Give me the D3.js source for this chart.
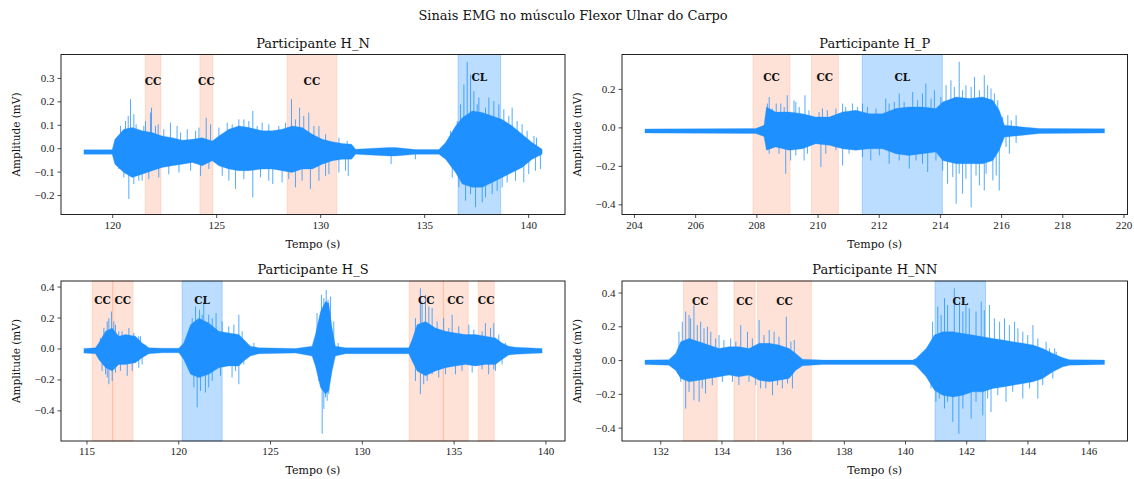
<!DOCTYPE html>
<html>
<head>
<meta charset="utf-8">
<script src="https://cdn.jsdelivr.net/npm/d3@7"></script>
<style>
  body { margin: 0; background: #fff; }
  text { font-family: "DejaVu Serif", serif; fill: #111; }
  .tick text { font-family: "Liberation Serif", serif; font-size: 11px; fill: #222; }
</style>
</head>
<body>
<svg id="chart" width="1134" height="479"></svg>
<script>
// EMG envelope per participant: [time (s), upper (mV), lower (mV)]
const hnEnvelope = [
  [118.64, -0.007, -0.026], [120.00, -0.007, -0.026], [120.13, 0.038, -0.068], [120.56, 0.081, -0.104],
  [120.96, 0.088, -0.125], [121.44, 0.074, -0.111], [121.92, 0.067, -0.096], [122.40, 0.052, -0.082],
  [122.88, 0.045, -0.075], [123.37, 0.034, -0.068], [123.85, 0.038, -0.061], [124.33, 0.045, -0.075],
  [124.81, 0.031, -0.054], [125.13, 0.052, -0.075], [125.61, 0.081, -0.089], [126.09, 0.095, -0.096],
  [126.57, 0.088, -0.096], [127.21, 0.074, -0.089], [127.69, 0.074, -0.089], [128.17, 0.081, -0.096],
  [128.65, 0.095, -0.104], [129.13, 0.088, -0.089], [129.62, 0.060, -0.089], [130.10, 0.038, -0.068],
  [130.58, 0.028, -0.054], [131.06, 0.020, -0.047], [131.51, 0.017, -0.047], [131.70, -0.004, -0.026],
  [133.30, 0.003, -0.033], [133.62, 0.003, -0.033], [134.58, -0.006, -0.026], [135.71, -0.006, -0.026],
  [136.03, 0.024, -0.047], [136.51, 0.095, -0.104], [136.83, 0.130, -0.153], [137.31, 0.159, -0.167],
  [137.79, 0.152, -0.167], [138.27, 0.138, -0.146], [138.75, 0.123, -0.125], [139.23, 0.095, -0.104],
  [139.71, 0.060, -0.082], [140.19, 0.024, -0.047], [140.67, -0.004, -0.026]
];
const hpEnvelope = [
  [204.36, -0.008, -0.029], [207.98, -0.006, -0.032], [208.25, 0.011, -0.047], [208.33, 0.106, -0.119],
  [208.63, 0.080, -0.102], [209.07, 0.080, -0.119], [209.51, 0.071, -0.111], [209.94, 0.054, -0.085],
  [210.38, 0.054, -0.093], [210.82, 0.080, -0.111], [211.25, 0.089, -0.119], [211.69, 0.071, -0.111],
  [212.12, 0.071, -0.111], [212.56, 0.098, -0.137], [212.98, 0.106, -0.146], [213.43, 0.106, -0.137],
  [213.87, 0.098, -0.128], [214.09, 0.132, -0.172], [214.53, 0.158, -0.189], [214.96, 0.150, -0.189],
  [215.40, 0.158, -0.189], [215.73, 0.141, -0.172], [215.94, 0.089, -0.119], [216.11, 0.011, -0.050],
  [216.71, 0.002, -0.041], [217.25, -0.006, -0.032], [219.38, -0.007, -0.029]
];
const hsEnvelope = [
  [114.86, 0.000, -0.030], [115.49, 0.004, -0.034], [115.67, 0.036, -0.071], [116.04, 0.111, -0.124],
  [116.40, 0.132, -0.145], [116.76, 0.079, -0.103], [117.13, 0.090, -0.103], [117.67, 0.079, -0.092],
  [118.03, 0.036, -0.060], [118.40, 0.004, -0.034], [119.12, 0.002, -0.028], [120.03, 0.002, -0.028],
  [120.30, 0.036, -0.071], [120.67, 0.154, -0.167], [121.12, 0.196, -0.188], [121.66, 0.164, -0.167],
  [122.21, 0.111, -0.124], [122.75, 0.100, -0.113], [123.30, 0.090, -0.113], [123.57, 0.058, -0.081],
  [123.93, 0.015, -0.049], [124.39, 0.004, -0.034], [126.39, 0.000, -0.030], [127.29, 0.015, -0.049],
  [127.47, 0.090, -0.113], [127.75, 0.239, -0.252], [128.02, 0.303, -0.295], [128.20, 0.293, -0.274],
  [128.38, 0.132, -0.145], [128.56, 0.015, -0.049], [129.11, 0.004, -0.034], [132.56, 0.004, -0.034],
  [132.74, 0.058, -0.081], [133.01, 0.154, -0.145], [133.47, 0.175, -0.177], [134.01, 0.132, -0.145],
  [134.56, 0.111, -0.124], [135.10, 0.100, -0.113], [135.64, 0.090, -0.103], [136.19, 0.090, -0.113],
  [136.73, 0.079, -0.103], [137.28, 0.068, -0.103], [137.64, 0.036, -0.071], [138.00, 0.015, -0.043],
  [138.37, 0.008, -0.038], [139.82, 0.000, -0.030]
];
const hnnEnvelope = [
  [131.50, 0.000, -0.026], [132.28, 0.002, -0.030], [132.50, 0.039, -0.060], [132.67, 0.109, -0.109],
  [132.94, 0.128, -0.129], [133.27, 0.109, -0.119], [133.59, 0.089, -0.109], [133.92, 0.069, -0.099],
  [134.25, 0.079, -0.089], [134.57, 0.079, -0.099], [134.90, 0.069, -0.089], [135.23, 0.099, -0.119],
  [135.56, 0.099, -0.129], [135.88, 0.089, -0.119], [136.21, 0.069, -0.109], [136.43, 0.039, -0.060],
  [136.65, 0.005, -0.034], [137.30, 0.000, -0.026], [140.25, 0.000, -0.026], [140.36, 0.010, -0.034],
  [140.69, 0.069, -0.099], [140.96, 0.148, -0.178], [141.23, 0.168, -0.208], [141.56, 0.168, -0.218],
  [141.89, 0.158, -0.208], [142.21, 0.148, -0.188], [142.54, 0.138, -0.188], [142.87, 0.128, -0.168],
  [143.20, 0.119, -0.159], [143.52, 0.109, -0.149], [143.85, 0.099, -0.139], [144.18, 0.089, -0.129],
  [144.50, 0.069, -0.109], [144.83, 0.039, -0.069], [145.16, 0.014, -0.040], [145.38, 0.002, -0.030],
  [146.52, 0.000, -0.026]
];

// peaks that stick out of the envelope: [time (s), amplitude (mV)]
const hnSpikes = [
  [120.64, 0.116], [120.88, 0.209], [121.04, 0.145], [121.84, 0.152], [121.89, 0.173], [122.21, 0.102],
  [122.80, 0.109], [123.12, 0.095], [124.17, 0.088], [124.52, 0.130], [125.53, 0.109], [126.33, 0.123],
  [126.76, 0.159], [127.21, 0.109], [128.62, 0.209], [129.01, 0.173], [129.45, 0.152], [129.94, 0.095],
  [136.91, 0.272], [137.07, 0.369], [137.23, 0.315], [137.63, 0.216], [138.11, 0.216], [138.59, 0.187],
  [138.83, 0.166], [139.23, 0.173], [139.71, 0.102], [140.40, 0.045],
  [120.40, 0.095], [120.77, 0.138], [121.15, 0.102], [121.52, 0.095], [121.60, 0.116], [122.08, 0.095],
  [122.48, 0.081], [123.29, 0.067], [123.61, 0.081], [124.01, 0.074], [124.73, 0.102], [125.13, 0.088],
  [125.77, 0.102], [126.09, 0.123], [126.57, 0.116], [126.97, 0.095], [127.53, 0.102], [128.01, 0.095],
  [128.33, 0.109], [128.81, 0.123], [129.21, 0.138], [129.70, 0.095], [130.26, 0.060], [130.90, 0.045],
  [131.30, 0.031], [136.27, 0.074], [136.59, 0.116], [136.75, 0.187], [137.39, 0.244], [137.55, 0.187],
  [137.95, 0.173], [138.35, 0.201], [139.07, 0.138], [139.47, 0.116], [139.95, 0.074], [140.28, 0.052],
  [120.80, -0.217], [121.28, -0.139], [125.93, -0.174], [126.76, -0.210], [127.72, -0.153], [128.81, -0.167],
  [129.53, -0.174], [129.94, -0.139], [130.42, -0.111], [131.35, -0.118], [133.41, -0.068], [134.58, -0.047],
  [136.99, -0.224], [137.47, -0.252], [137.79, -0.231], [138.27, -0.196], [138.75, -0.167], [139.79, -0.146],
  [140.59, -0.089],
  [120.32, -0.089], [120.56, -0.125], [121.04, -0.153], [121.44, -0.139], [121.76, -0.132], [122.24, -0.125],
  [122.72, -0.111], [123.21, -0.104], [123.77, -0.096], [124.25, -0.118], [124.65, -0.089], [125.29, -0.118],
  [125.61, -0.139], [126.33, -0.132], [127.13, -0.125], [127.53, -0.139], [128.17, -0.146], [128.49, -0.132],
  [129.13, -0.139], [130.26, -0.118], [130.90, -0.104], [131.22, -0.096], [136.35, -0.125], [136.67, -0.167],
  [137.23, -0.196], [137.95, -0.210], [138.51, -0.182], [138.99, -0.146], [139.39, -0.139], [140.03, -0.111],
  [140.35, -0.096]
];
const hpSpikes = [
  [208.42, 0.158], [208.65, 0.124], [209.01, 0.167], [209.23, 0.141], [209.59, 0.167], [210.16, 0.098],
  [210.82, 0.124], [211.14, 0.124], [211.47, 0.124], [212.23, 0.150], [212.67, 0.176], [213.11, 0.184],
  [213.54, 0.228], [213.82, 0.193], [214.36, 0.245], [214.63, 0.341], [214.85, 0.219], [215.13, 0.262],
  [215.45, 0.271], [215.67, 0.202], [215.89, 0.141], [216.22, 0.063], [216.49, 0.063],
  [208.36, 0.124], [208.52, 0.098], [208.80, 0.124], [208.91, 0.106], [209.29, 0.132], [209.40, 0.106],
  [209.72, 0.089], [210.05, 0.080], [210.32, 0.089], [210.60, 0.098], [210.92, 0.106], [211.31, 0.106],
  [211.63, 0.106], [211.91, 0.098], [212.34, 0.124], [212.51, 0.132], [212.83, 0.132], [213.27, 0.141],
  [213.43, 0.176], [213.71, 0.150], [214.03, 0.158], [214.20, 0.219], [214.47, 0.210], [214.74, 0.193],
  [215.02, 0.210], [215.29, 0.193], [215.56, 0.219], [215.78, 0.176], [216.05, 0.054], [216.33, 0.037],
  [208.96, -0.241], [209.12, -0.172], [209.56, -0.172], [210.11, -0.206], [210.82, -0.198], [211.74, -0.172],
  [212.34, -0.189], [213.00, -0.215], [213.60, -0.232], [214.25, -0.293], [214.53, -0.397], [214.74, -0.345],
  [215.02, -0.415], [215.29, -0.302], [215.45, -0.328], [215.73, -0.276], [215.94, -0.328], [216.27, -0.137],
  [216.49, -0.081],
  [208.42, -0.137], [208.74, -0.137], [209.29, -0.146], [209.67, -0.137], [210.27, -0.137], [210.60, -0.119],
  [211.03, -0.137], [211.47, -0.154], [212.02, -0.146], [212.67, -0.172], [213.22, -0.172], [213.43, -0.189],
  [213.87, -0.172], [214.09, -0.224], [214.42, -0.258], [214.63, -0.241], [214.85, -0.267], [215.18, -0.250],
  [215.51, -0.241], [215.84, -0.250], [216.16, -0.102]
];
const hsSpikes = [
  [116.22, 0.196], [116.36, 0.239], [116.49, 0.175], [116.94, 0.111], [117.85, 0.079], [120.94, 0.271],
  [121.16, 0.250], [121.39, 0.300], [121.66, 0.218], [122.06, 0.229], [123.30, 0.218], [127.80, 0.346],
  [128.06, 0.378], [128.29, 0.335], [128.71, 0.036], [133.19, 0.389], [133.47, 0.346], [133.83, 0.261],
  [134.46, 0.196], [134.92, 0.218], [135.83, 0.154], [136.73, 0.164], [137.19, 0.164],
  [115.76, 0.068], [115.95, 0.132], [116.13, 0.175], [116.58, 0.154], [116.76, 0.111], [117.31, 0.132],
  [117.58, 0.100], [117.94, 0.079], [118.21, 0.025], [120.76, 0.196], [121.30, 0.218], [121.85, 0.196],
  [122.39, 0.175], [122.75, 0.143], [123.03, 0.154], [123.48, 0.111], [124.12, 0.036], [127.56, 0.229],
  [127.93, 0.325], [128.16, 0.314], [128.47, 0.175], [132.92, 0.196], [133.28, 0.303], [133.65, 0.271],
  [134.10, 0.175], [134.74, 0.132], [135.28, 0.143], [136.10, 0.122], [136.55, 0.111], [137.01, 0.132],
  [137.46, 0.089], [137.82, 0.036],
  [116.04, -0.167], [116.22, -0.231], [116.40, -0.210], [117.22, -0.177], [118.03, -0.103], [121.03, -0.380],
  [121.48, -0.284], [121.66, -0.252], [123.30, -0.231], [127.93, -0.391], [127.84, -0.551], [128.11, -0.338],
  [133.19, -0.295], [133.37, -0.231], [134.19, -0.188], [135.10, -0.167], [136.91, -0.167], [137.28, -0.145],
  [115.85, -0.145], [116.13, -0.188], [116.58, -0.156], [116.85, -0.145], [117.49, -0.145], [117.85, -0.124],
  [120.85, -0.252], [121.21, -0.274], [121.85, -0.210], [122.30, -0.177], [122.93, -0.188], [123.12, -0.145],
  [123.57, -0.103], [127.66, -0.210], [128.02, -0.316], [128.20, -0.295], [132.92, -0.210], [133.56, -0.210],
  [133.83, -0.167], [134.56, -0.167], [135.46, -0.145], [136.01, -0.156], [136.55, -0.135], [137.19, -0.135],
  [137.64, -0.103]
];
const hnnSpikes = [
  [132.83, 0.287], [132.94, 0.267], [133.10, 0.326], [133.32, 0.227], [133.54, 0.198], [133.92, 0.148],
  [134.63, 0.207], [135.23, 0.237], [135.56, 0.178], [136.12, 0.257], [136.38, 0.119], [141.07, 0.316],
  [141.29, 0.366], [141.61, 0.425], [141.78, 0.346], [142.10, 0.306], [142.49, 0.346], [142.76, 0.326],
  [143.25, 0.247], [143.58, 0.227], [143.85, 0.168], [144.18, 0.207], [144.61, 0.109], [144.89, 0.069],
  [132.61, 0.168], [132.72, 0.227], [132.99, 0.247], [133.21, 0.207], [133.43, 0.188], [133.65, 0.168],
  [133.81, 0.128], [134.08, 0.119], [134.30, 0.128], [134.47, 0.109], [134.85, 0.168], [135.01, 0.128],
  [135.39, 0.148], [135.72, 0.168], [135.88, 0.138], [136.27, 0.109], [140.90, 0.227], [141.18, 0.267],
  [141.39, 0.326], [141.89, 0.287], [141.99, 0.326], [142.32, 0.287], [142.59, 0.296], [142.92, 0.247],
  [143.09, 0.227], [143.41, 0.207], [143.69, 0.188], [144.01, 0.148], [144.34, 0.128], [144.72, 0.069],
  [144.94, 0.049],
  [132.83, -0.287], [133.27, -0.247], [133.48, -0.198], [134.57, -0.148], [135.28, -0.168], [135.67, -0.208],
  [135.99, -0.168], [136.32, -0.168], [141.01, -0.247], [141.29, -0.287], [141.56, -0.366], [141.76, -0.436],
  [142.16, -0.346], [142.54, -0.327], [142.81, -0.307], [143.30, -0.247], [143.85, -0.228], [144.34, -0.228],
  [132.67, -0.129], [132.94, -0.188], [133.10, -0.238], [133.37, -0.168], [133.70, -0.149], [134.03, -0.129],
  [134.36, -0.129], [134.90, -0.129], [135.12, -0.149], [135.45, -0.168], [135.83, -0.149], [136.16, -0.139],
  [140.85, -0.168], [141.12, -0.228], [141.39, -0.247], [141.89, -0.287], [142.32, -0.247], [142.70, -0.228],
  [143.03, -0.208], [143.52, -0.188], [144.07, -0.168], [144.50, -0.149], [144.83, -0.109]
];

// resting offset of each recording (mV)
const hnBaseline = -0.016, hpBaseline = -0.019, hsBaseline = -0.015, hnnBaseline = -0.014;

// contraction windows: [start (s), end (s), label, label height (mV)]
const hnSpans = [[121.59, 122.34, 'CC', 0.285], [124.22, 124.84, 'CC', 0.285], [128.41, 130.80, 'CC', 0.285], [136.63, 138.68, 'CL', 0.303]];
const hpSpans = [[207.89, 209.10, 'CC', 0.262], [209.80, 210.68, 'CC', 0.262], [211.46, 214.08, 'CL', 0.262]];
const hsSpans = [[115.31, 116.44, 'CC', 0.314], [116.42, 117.54, 'CC', 0.314], [120.21, 122.39, 'CL', 0.314],
  [132.58, 134.45, 'CC', 0.314], [134.43, 135.79, 'CC', 0.314], [136.34, 137.21, 'CC', 0.314]];
const hnnSpans = [[132.76, 133.86, 'CC', 0.346], [134.41, 135.10, 'CC', 0.346], [135.18, 136.94, 'CC', 0.346], [140.98, 142.63, 'CL', 0.346]];

// tick values
const hnXTicks = [120, 125, 130, 135, 140], hnYTicks = [-0.2, -0.1, 0.0, 0.1, 0.2, 0.3];
const hpXTicks = [204, 206, 208, 210, 212, 214, 216, 218, 220], hpYTicks = [-0.4, -0.2, 0.0, 0.2];
const hsXTicks = [115, 120, 125, 130, 135, 140], hsYTicks = [-0.4, -0.2, 0.0, 0.2, 0.4];
const hnnXTicks = [132, 134, 136, 138, 140, 142, 144, 146], hnnYTicks = [-0.4, -0.2, 0.0, 0.2, 0.4];

const titles = ['Participante H_N', 'Participante H_P', 'Participante H_S', 'Participante H_NN'];

const SIGNAL = '#1e90ff';
const CC_COLOR = '#ffa07a'; // lightsalmon
const CL_COLOR = '#1e90ff';

const svg = d3.select('#chart');
svg.append('rect').attr('width', 1134).attr('height', 479).attr('fill', '#fff');

svg.append('text')
  .attr('x', 573).attr('y', 20)
  .attr('text-anchor', 'middle')
  .style('font-size', '13px')
  .text('Sinais EMG no músculo Flexor Ulnar do Carpo');

const panels = [
  { env: hnEnvelope, spikes: hnSpikes, base: hnBaseline, spans: hnSpans, xt: hnXTicks, yt: hnYTicks, box: { x: 61, y: 54.5, w: 504, h: 160 } },
  { env: hpEnvelope, spikes: hpSpikes, base: hpBaseline, spans: hpSpans, xt: hpXTicks, yt: hpYTicks, box: { x: 622, y: 54.5, w: 505.5, h: 160 } },
  { env: hsEnvelope, spikes: hsSpikes, base: hsBaseline, spans: hsSpans, xt: hsXTicks, yt: hsYTicks, box: { x: 61, y: 281, w: 504, h: 160 } },
  { env: hnnEnvelope, spikes: hnnSpikes, base: hnnBaseline, spans: hnnSpans, xt: hnnXTicks, yt: hnnYTicks, box: { x: 622, y: 281, w: 505.5, h: 160 } }
];

panels.forEach((p, i) => {
  const b = p.box;
  const g = svg.append('g').attr('transform', 'translate(' + b.x + ',' + b.y + ')');

  // matplotlib-like 5% margins around data
  const tExt = d3.extent(p.env, d => d[0]);
  const vMax = Math.max(d3.max(p.env, d => d[1]), d3.max(p.spikes, d => d[1]));
  const vMin = Math.min(d3.min(p.env, d => d[2]), d3.min(p.spikes, d => d[1]));
  const tPad = (tExt[1] - tExt[0]) * 0.05, vPad = (vMax - vMin) * 0.05;

  const x = d3.scaleLinear().domain([tExt[0] - tPad, tExt[1] + tPad]).range([0, b.w]);
  const y = d3.scaleLinear().domain([vMin - vPad, vMax + vPad]).range([b.h, 0]);

  // shaded contraction windows
  g.selectAll('rect.span').data(p.spans).enter().append('rect')
    .attr('class', 'span')
    .attr('x', d => x(d[0])).attr('width', d => x(d[1]) - x(d[0]))
    .attr('y', 0).attr('height', b.h)
    .attr('fill', d => d[2] === 'CL' ? CL_COLOR : CC_COLOR).attr('fill-opacity', 0.3)
    .attr('stroke', d => d[2] === 'CL' ? CL_COLOR : CC_COLOR).attr('stroke-opacity', 0.3);

  // spikes
  g.selectAll('line.spike').data(p.spikes).enter().append('line')
    .attr('class', 'spike')
    .attr('x1', d => x(d[0])).attr('x2', d => x(d[0]))
    .attr('y1', y(p.base)).attr('y2', d => y(d[1]))
    .attr('stroke', SIGNAL).attr('stroke-width', 0.9).attr('stroke-opacity', 0.85);

  // dense envelope
  const area = d3.area()
    .x(d => x(d[0]))
    .y0(d => y(d[2]))
    .y1(d => y(d[1]));
  g.append('path').datum(p.env)
    .attr('d', area)
    .attr('fill', SIGNAL)
    .attr('stroke', SIGNAL).attr('stroke-width', 0.3);

  // window labels
  g.selectAll('text.lab').data(p.spans).enter().append('text')
    .attr('class', 'lab')
    .attr('x', d => x((d[0] + d[1]) / 2)).attr('y', d => y(d[3]))
    .attr('dy', '0.35em')
    .attr('text-anchor', 'middle')
    .style('font-size', '10.5px').style('font-weight', 'bold')
    .text(d => d[2]);

  // axes
  const xAxis = d3.axisBottom(x).tickValues(p.xt).tickFormat(d3.format('d')).tickSize(3.5).tickPadding(3);
  const yAxis = d3.axisLeft(y).tickValues(p.yt).tickFormat(d3.format('.1f')).tickSize(3.5).tickPadding(3);
  g.append('g').attr('transform', 'translate(0,' + b.h + ')').call(xAxis).call(a => a.select('.domain').remove());
  g.append('g').call(yAxis).call(a => a.select('.domain').remove());
  g.selectAll('.tick line').attr('stroke', '#222').attr('stroke-width', 0.8);

  g.append('rect')
    .attr('width', b.w).attr('height', b.h)
    .attr('fill', 'none').attr('stroke', '#222').attr('stroke-width', 1);

  g.append('text')
    .attr('x', b.w / 2).attr('y', -7)
    .attr('text-anchor', 'middle')
    .style('font-size', '13px')
    .text(titles[i]);

  g.append('text')
    .attr('x', b.w / 2).attr('y', b.h + 33)
    .attr('text-anchor', 'middle')
    .style('font-size', '11px')
    .text('Tempo (s)');

  g.append('text')
    .attr('transform', 'translate(-41,' + (b.h / 2) + ') rotate(-90)')
    .attr('text-anchor', 'middle')
    .style('font-size', '10.5px')
    .text('Amplitude (mV)');
});
</script>
</body>
</html>
